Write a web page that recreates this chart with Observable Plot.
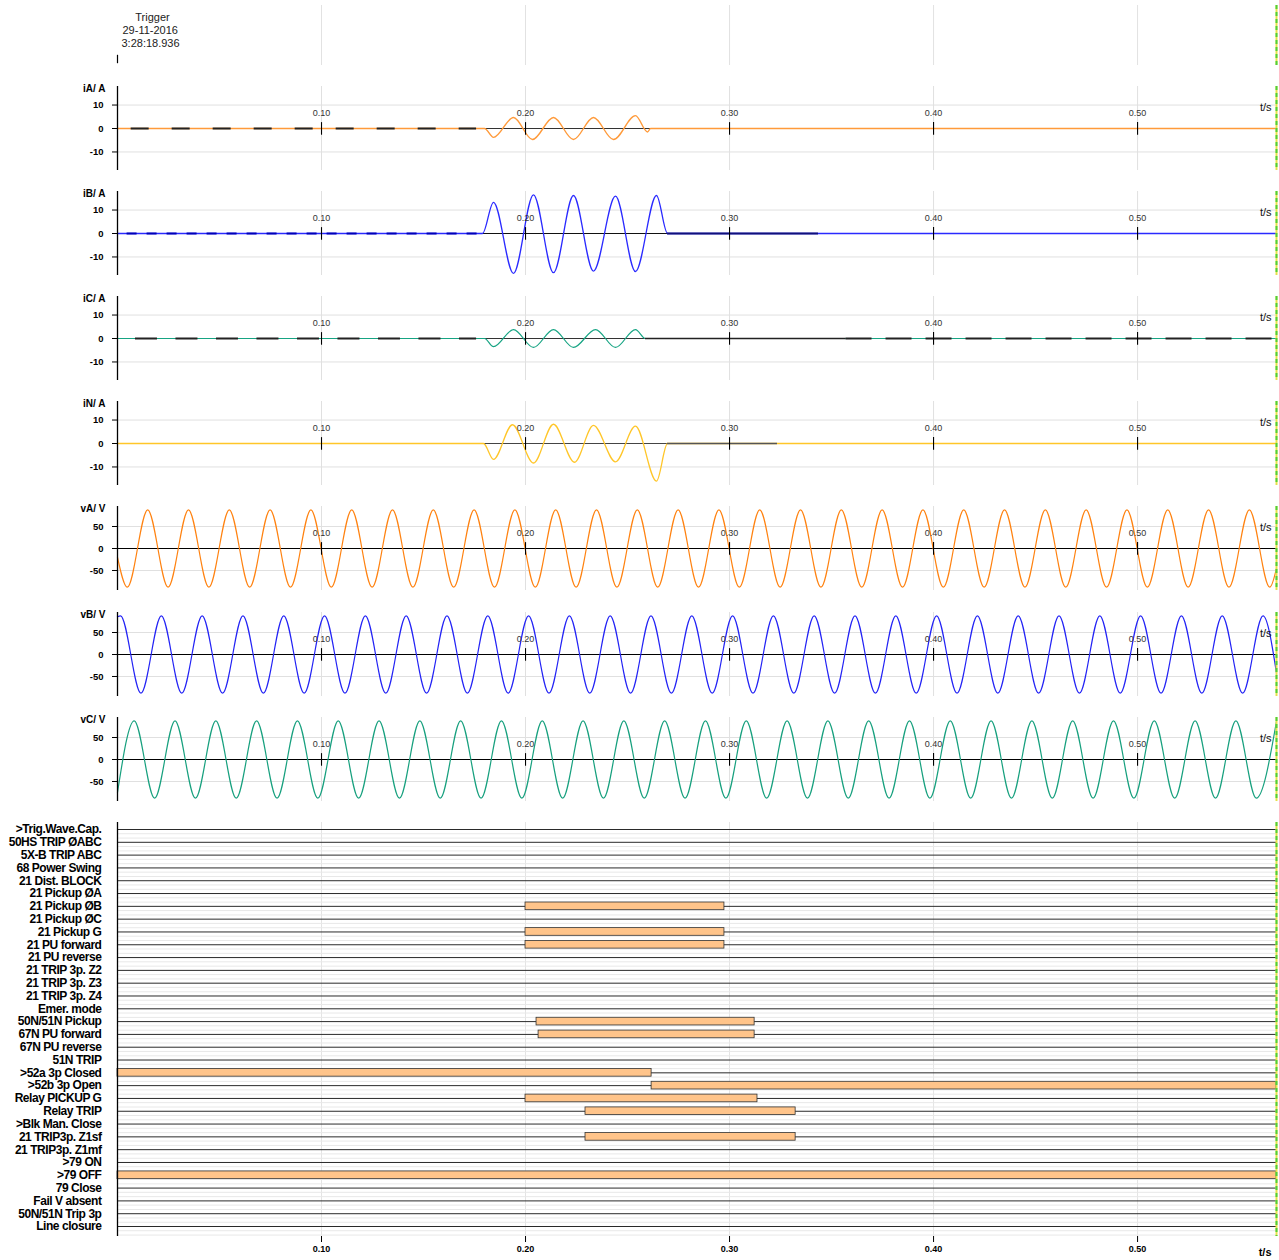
<!DOCTYPE html>
<html><head><meta charset="utf-8">
<script src="https://cdn.jsdelivr.net/npm/d3@7"></script>
<script src="https://cdn.jsdelivr.net/npm/@observablehq/plot@0.6"></script>
<style>
body{margin:0;background:#fff;}
#chart{position:relative;width:1279px;height:1260px;overflow:hidden;background:#fff;}
#chart svg{position:absolute;left:0;overflow:visible;}
#chart svg.dig g[aria-label="y-axis tick label"] text{letter-spacing:-0.45px;}
</style></head><body><div id="chart"></div>
<script>
// ---------------- data ----------------
const tMax = 0.5681;
const xTicks = [0.10, 0.20, 0.30, 0.40, 0.50];
const triggerLines = ["Trigger", "29-11-2016", "3:28:18.936"];

// analog currents: turning points (t in s, value in A)
const iA_t = [0, 0.1799, 0.1843, 0.1941, 0.2034, 0.2137, 0.2235, 0.2333, 0.2431, 0.2539, 0.2598, 0.2613, 0.5681];
const iA_v = [0, 0, -3.8, 4.7, -4.7, 4.7, -4.7, 4.7, -4.7, 5.5, -1.5, 0, 0];
const iB_t = [0, 0.1789, 0.1843, 0.1941, 0.2039, 0.2137, 0.2235, 0.2333, 0.2441, 0.2539, 0.2642, 0.2696, 0.5681];
const iB_v = [0, 0, 13.3, -17, 16.5, -16.7, 16.2, -16, 15.9, -16.2, 16.2, 0, 0];
const iC_t = [0, 0.1799, 0.1843, 0.1941, 0.2039, 0.2137, 0.2235, 0.2343, 0.2441, 0.2539, 0.2588, 0.5681];
const iC_v = [0, 0, -3.5, 3.8, -3.8, 3.8, -3.8, 3.8, -3.8, 3.8, 0, 0];
const iN_t = [0, 0.1794, 0.1843, 0.1936, 0.2039, 0.2137, 0.2240, 0.2333, 0.2441, 0.2539, 0.2642, 0.2696, 0.5681];
const iN_v = [0, 0, -6.8, 8, -8.3, 8.2, -8, 7.7, -7.8, 7.4, -16, 0, 0];

// analog voltages: turning points (t in s, value in V)
const vA_t = [0,
 0.0048,0.0148,0.0248,0.0348,0.0448,0.0548,0.0648,0.0748,0.0848,0.0948,
 0.1048,0.1148,0.1248,0.1348,0.1448,0.1548,0.1648,0.1748,0.1848,0.1948,
 0.2048,0.2148,0.2248,0.2348,0.2448,0.2548,0.2648,0.2748,0.2848,0.2948,
 0.3048,0.3148,0.3248,0.3348,0.3448,0.3548,0.3648,0.3748,0.3848,0.3948,
 0.4048,0.4148,0.4248,0.4348,0.4448,0.4548,0.4648,0.4748,0.4848,0.4948,
 0.5048,0.5148,0.5248,0.5348,0.5448,0.5548,0.5648, 0.5681];
const vA_v = [-20,
 -88,88,-88,88,-88,88,-88,88,-88,88,
 -88,88,-88,88,-88,88,-88,88,-88,88,
 -88,88,-88,88,-88,88,-88,88,-88,88,
 -88,88,-88,88,-88,88,-88,88,-88,88,
 -88,88,-88,88,-88,88,-88,88,-88,88,
 -88,88,-88,88,-88,88,-88, -45];
const vB_t = [0,
 0.0015,0.0115,0.0215,0.0315,0.0415,0.0515,0.0615,0.0715,0.0815,0.0915,
 0.1015,0.1115,0.1215,0.1315,0.1415,0.1515,0.1615,0.1715,0.1815,0.1915,
 0.2015,0.2115,0.2215,0.2315,0.2415,0.2515,0.2615,0.2715,0.2815,0.2915,
 0.3015,0.3115,0.3215,0.3315,0.3415,0.3515,0.3615,0.3715,0.3815,0.3915,
 0.4015,0.4115,0.4215,0.4315,0.4415,0.4515,0.4615,0.4715,0.4815,0.4915,
 0.5015,0.5115,0.5215,0.5315,0.5415,0.5515,0.5615, 0.5681];
const vB_v = [86,
 88,-88,88,-88,88,-88,88,-88,88,-88,
 88,-88,88,-88,88,-88,88,-88,88,-88,
 88,-88,88,-88,88,-88,88,-88,88,-88,
 88,-88,88,-88,88,-88,88,-88,88,-88,
 88,-88,88,-88,88,-88,88,-88,88,-88,
 88,-88,88,-88,88,-88,88, -42];
const vC_t = [0,
 0.0082,0.0182,0.0282,0.0382,0.0482,0.0582,0.0682,0.0782,0.0882,0.0982,
 0.1082,0.1182,0.1282,0.1382,0.1482,0.1582,0.1682,0.1782,0.1882,0.1982,
 0.2082,0.2182,0.2282,0.2382,0.2482,0.2582,0.2682,0.2782,0.2882,0.2982,
 0.3082,0.3182,0.3282,0.3382,0.3482,0.3582,0.3682,0.3782,0.3882,0.3982,
 0.4082,0.4182,0.4282,0.4382,0.4482,0.4582,0.4682,0.4782,0.4882,0.4982,
 0.5082,0.5182,0.5282,0.5382,0.5482,0.5582, 0.5681];
const vC_v = [-75,
 88,-88,88,-88,88,-88,88,-88,88,-88,
 88,-88,88,-88,88,-88,88,-88,88,-88,
 88,-88,88,-88,88,-88,88,-88,88,-88,
 88,-88,88,-88,88,-88,88,-88,88,-88,
 88,-88,88,-88,88,-88,88,-88,88,-88,
 88,-88,88,-88,88,-88, 87];

// binary (digital) channels
const digLabels = [">Trig.Wave.Cap.", "50HS TRIP ØABC", "5X-B TRIP ABC", "68 Power Swing", "21 Dist. BLOCK",
 "21 Pickup ØA", "21 Pickup ØB", "21 Pickup ØC", "21 Pickup G", "21 PU forward", "21 PU reverse",
 "21 TRIP 3p. Z2", "21 TRIP 3p. Z3", "21 TRIP 3p. Z4", "Emer. mode", "50N/51N Pickup", "67N PU forward",
 "67N PU reverse", "51N TRIP", ">52a 3p Closed", ">52b 3p Open", "Relay PICKUP G", "Relay TRIP",
 ">Blk Man. Close", "21 TRIP3p. Z1sf", "21 TRIP3p. Z1mf", ">79 ON", ">79 OFF", "79 Close",
 "Fail V absent", "50N/51N Trip 3p", "Line closure"];
const digOnChannel = ["21 Pickup ØB", "21 Pickup G", "21 PU forward", "50N/51N Pickup", "67N PU forward",
 ">52a 3p Closed", ">52b 3p Open", "Relay PICKUP G", "Relay TRIP", "21 TRIP3p. Z1sf", ">79 OFF"];
const digOnStart = [0.2000, 0.2000, 0.2000, 0.2054, 0.2064, 0.0000, 0.2618, 0.2000, 0.2294, 0.2294, 0.0000];
const digOnEnd   = [0.2975, 0.2975, 0.2975, 0.3123, 0.3123, 0.2618, 0.5681, 0.3137, 0.3324, 0.3324, 0.5681];

// ---------------- drawing ----------------
const W = 1279, ML = 117, MR = 3;
const FONT = '"Liberation Sans", Arial, sans-serif';
const chart = document.getElementById("chart");
function place(svg, top, cls){ svg.style.top = top + "px"; if (cls) svg.classList.add(cls); chart.appendChild(svg); }

function edgeMarks(){
  return [
    Plot.ruleX([tMax], {stroke: "#e6e04a", strokeWidth: 2}),
    Plot.ruleX([tMax], {stroke: "#4fd03a", strokeWidth: 2, strokeDasharray: "4,3"})
  ];
}

// trigger panel
place(Plot.plot({
  width: W, height: 68, marginLeft: ML, marginRight: MR, marginTop: 5, marginBottom: 3,
  style: {fontFamily: FONT, background: "transparent"},
  x: {domain: [0, tMax], axis: null}, y: {domain: [0, 1], axis: null},
  marks: [
    Plot.ruleX(xTicks, {stroke: "#e2e2e2"}),
    ...edgeMarks(),
    Plot.ruleX([0], {y1: 0.03, y2: 0.17, stroke: "#000", strokeWidth: 1.2}),
    Plot.text([triggerLines[0]], {frameAnchor: "top-left", dx: 35, dy: 8, textAnchor: "middle", fontSize: 11, fill: "#222"}),
    Plot.text([triggerLines[1]], {frameAnchor: "top-left", dx: 5, dy: 21, textAnchor: "start", fontSize: 11, fill: "#222"}),
    Plot.text([triggerLines[2]], {frameAnchor: "top-left", dx: 4, dy: 34, textAnchor: "start", fontSize: 11, fill: "#222"})
  ]
}), 0);

const panels = [
  {name: "iA/ A", t: iA_t, v: iA_v, color: "#ff9a3a", sw: 1.4, d: 17.9, ticks: [-10, 0, 10], top: 76,
   under: [[0.1799, 0.2667, "#333", 1.2, null]],
   over: [[0.0067, 0.176, "#222", 1.8, "18,23"]]},
  {name: "iB/ A", t: iB_t, v: iB_v, color: "#2a2aff", sw: 1.3, d: 17.9, ticks: [-10, 0, 10], top: 181,
   under: [[0.1789, 0.2696, "#111", 1.2, null]],
   over: [[0.2696, 0.3436, "#10107a", 1.8, null], [0.0047, 0.178, "#0000b8", 1.9, "10,10"]]},
  {name: "iC/ A", t: iC_t, v: iC_v, color: "#16a483", sw: 1.2, d: 17.9, ticks: [-10, 0, 10], top: 286,
   under: [[0.1799, 0.2588, "#333", 1.2, null]],
   over: [[0.2588, 0.3571, "#222", 1.6, null], [0.0088, 0.176, "#222", 1.8, "22,18.5"], [0.3571, 0.5681, "#222", 1.8, "26,14"]]},
  {name: "iN/ A", t: iN_t, v: iN_v, color: "#ffc629", sw: 1.3, d: 17.9, ticks: [-10, 0, 10], top: 391,
   under: [[0.1794, 0.2696, "#444", 1.2, null]],
   over: [[0.2696, 0.3235, "#555", 1.5, null]]},
  {name: "vA/ V", t: vA_t, v: vA_v, color: "#ff8210", sw: 1.2, d: 95.5, ticks: [-50, 0, 50], top: 496,
   under: [[0, tMax, "#000", 1, null]], over: []},
  {name: "vB/ V", t: vB_t, v: vB_v, color: "#2323f5", sw: 1.2, d: 95.5, ticks: [-50, 0, 50], top: 602,
   under: [[0, tMax, "#000", 1, null]], over: []},
  {name: "vC/ V", t: vC_t, v: vC_v, color: "#17a07e", sw: 1.2, d: 95.5, ticks: [-50, 0, 50], top: 707,
   under: [[0, tMax, "#000", 1, null]], over: []}
];

function seg(s){
  return Plot.ruleY([0], {x1: s[0], x2: s[1], stroke: s[2], strokeWidth: s[3], strokeDasharray: s[4] || undefined});
}

for (const p of panels) {
  const data = p.t.map((t, i) => ({t, v: p.v[i]}));
  const d = p.d;
  place(Plot.plot({
    width: W, height: 105, marginLeft: ML, marginRight: MR, marginTop: 10, marginBottom: 11,
    style: {fontFamily: FONT, background: "transparent"},
    x: {domain: [0, tMax], axis: null},
    y: {domain: [-d, d], axis: null},
    marks: [
      Plot.ruleX(xTicks, {stroke: "#e0e0e0"}),
      Plot.ruleY([p.ticks[0], p.ticks[2]], {stroke: "#e0e0e0"}),
      ...p.under.map(seg),
      Plot.line(data, {x: "t", y: "v", stroke: p.color, strokeWidth: p.sw, curve: "monotone-x"}),
      ...p.over.map(seg),
      Plot.ruleX(xTicks, {y1: -d * 0.16, y2: d * 0.14, stroke: "#000", strokeWidth: 1.1}),
      Plot.text(xTicks, {x: (t) => t, frameAnchor: "middle", dy: -15, text: (t) => t.toFixed(2), fontSize: 9, fill: "#333"}),
      ...edgeMarks(),
      Plot.ruleX([0], {stroke: "#000", strokeWidth: 1.3}),
      Plot.axisY({ticks: p.ticks, tickFormat: (v) => String(v), tickSize: 5, tickPadding: 9,
                  fontWeight: "bold", fontSize: 9.5, label: null}),
      Plot.text([p.name], {frameAnchor: "top-left", dx: -12, dy: -2, textAnchor: "end", fontWeight: "bold", fontSize: 10, fill: "#000"}),
      Plot.text(["t/s"], {frameAnchor: "top-right", dx: -5, dy: 17, textAnchor: "end", fontSize: 11, fill: "#111"})
    ]
  }), p.top);
}

// digital panel
const rowIdx = digLabels.map((_, i) => i);
const bars = digOnChannel.map((c, i) => ({row: digLabels.indexOf(c), t1: digOnStart[i], t2: digOnEnd[i]}));
const lightRows = rowIdx.flatMap((i) => [i + 0.33, i + 0.67]);
place(Plot.plot({
  width: W, height: 450, marginLeft: ML, marginRight: MR, marginTop: 12, marginBottom: 24,
  style: {fontFamily: FONT, background: "transparent"},
  x: {domain: [0, tMax], axis: null},
  y: {domain: [-0.547, 31.78], range: [12, 426], axis: null},
  marks: [
    Plot.ruleX(xTicks, {stroke: "#e4e4e4"}),
    Plot.ruleY(lightRows, {stroke: "#e8e8e8"}),
    Plot.ruleY(rowIdx, {stroke: "#2a2a2a", strokeWidth: 1}),
    Plot.rect(bars, {x1: "t1", x2: "t2", y1: (b) => b.row - 0.3, y2: (b) => b.row + 0.3,
                     fill: "#ffc48a", stroke: "#333", strokeWidth: 0.8}),
    ...edgeMarks(),
    Plot.ruleX([0], {stroke: "#000", strokeWidth: 1.3}),
    Plot.axisY({ticks: rowIdx, tickFormat: (i) => digLabels[i], tickSize: 0, tickPadding: 16,
                fontWeight: "bold", fontSize: 12, label: null}),
    Plot.axisX({ticks: xTicks, tickFormat: (t) => t.toFixed(2), tickSize: 6, tickPadding: 3,
                fontWeight: "bold", fontSize: 9, label: null}),
    Plot.text(["t/s"], {frameAnchor: "bottom-right", dx: -5, dy: 19, textAnchor: "end", fontWeight: "bold", fontSize: 11, fill: "#000"})
  ]
}), 810, "dig");
</script>
</body></html>
